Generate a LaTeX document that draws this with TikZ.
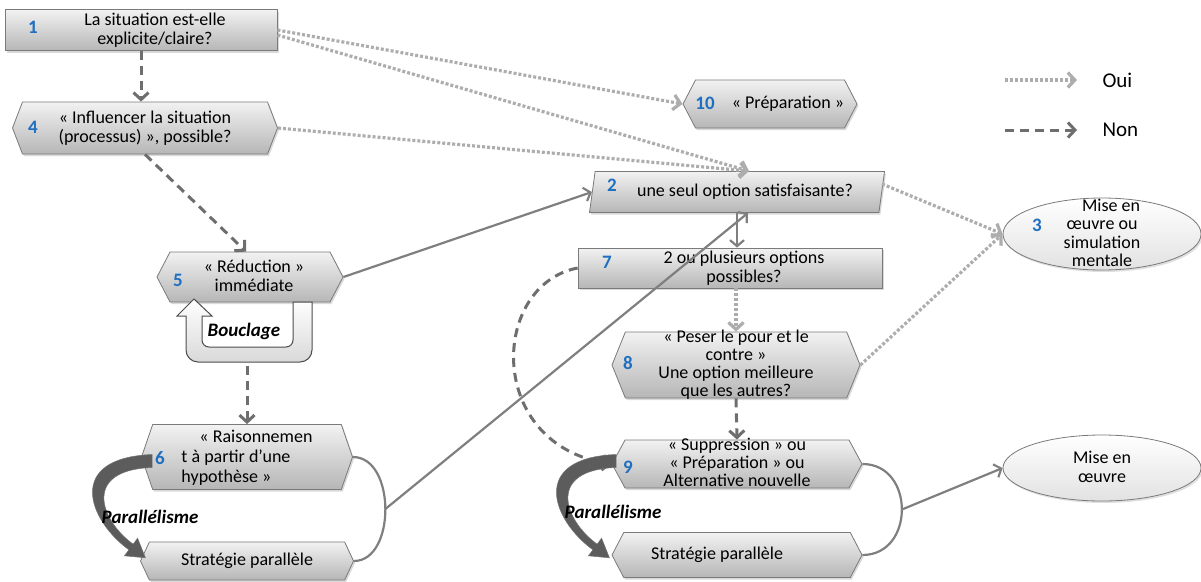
\documentclass[tikz,border=0pt]{standalone}
\usepackage{fontspec}
\setmainfont{Carlito}
\usetikzlibrary{shapes.geometric,shapes.symbols,shadows,arrows.meta,positioning}

\definecolor{boxtop}{HTML}{F2F2F2}
\definecolor{boxbot}{HTML}{B6B6B6}
\definecolor{boxline}{HTML}{7A7A7A}
\definecolor{ovalbot}{HTML}{E2E2E2}
\definecolor{numblue}{HTML}{1F6FC0}
\definecolor{ouigray}{HTML}{ADADAD}
\definecolor{nongray}{HTML}{6E6E6E}
\definecolor{flowgray}{HTML}{7F7F7F}
\definecolor{loopdark}{HTML}{5C5C5C}

\newcommand{\fs}{\fontsize{18}{18.5}\selectfont}
\newcommand{\lignes}[2][c]{\smash{\raisebox{-0.3em}{\begin{tabular}{@{}#1@{}}#2\end{tabular}}}}
\newcommand{\paraarrow}{%
  \fill[loopdark, draw=black!55, line width=0.5pt]
    (152,454.5) .. controls (65,458) and (88,520) .. (128.9,549.8)
    -- (124.4,555.8) -- (145.4,557.8) -- (137.6,538.2) -- (133.1,544.2)
    .. controls (100,520) and (82,470) .. (152,467.5) -- cycle;}

\tikzset{
  box/.style={draw=boxline, line width=0.8pt, top color=boxtop, bottom color=boxbot,
    drop shadow={opacity=0.3, shadow xshift=1.5pt, shadow yshift=-2pt},
    font=\fs, inner sep=0pt},
  slant/.style={box, trapezium, trapezium left angle=70, trapezium right angle=110,
    trapezium stretches body},
  hexa/.style={box, signal, signal to=west and east, signal pointer angle=#1},
  hexa/.default=130,
  oval/.style={ellipse, draw=boxline, line width=0.8pt, top color=white, bottom color=ovalbot,
    drop shadow={opacity=0.25, shadow xshift=1.5pt, shadow yshift=-2pt},
    font=\fs, inner sep=0pt},
  num/.style={text=numblue, font=\fontsize{19}{19}\selectfont\bfseries},
  tag/.style={font=\fontsize{19}{19}\selectfont\bfseries\itshape},
  link/.style={draw=flowgray, line width=2.2pt},
  flow/.style={link, -{Straight Barb[length=6pt,width=14pt]}},
  oui/.style={draw=ouigray, line width=3.2pt, dash pattern=on 3pt off 2pt,
    -{Straight Barb[length=7pt,width=15pt]}},
  non/.style={draw=nongray, line width=3pt, dash pattern=on 9pt off 6pt,
    -{Straight Barb[length=7pt,width=15pt]}},
}

\begin{document}
\begin{tikzpicture}[x=1pt,y=-1pt]
\useasboundingbox (0,0) rectangle (1201,581);

% colonne de gauche
\node[slant, minimum width=272pt, minimum height=41pt] (n1) at (141,30)
  {\hspace*{28pt}\lignes{La situation est-elle\\explicite/claire?}};
\node[hexa=138, minimum width=265pt, minimum height=52pt] (n4) at (145,128)
  {\lignes{« Influencer la situation\\(processus) », possible?}};
\node[hexa=125, minimum width=186pt, minimum height=50pt] (n5) at (250,277)
  {\hspace*{8pt}\lignes{« Réduction »\\immédiate}};
\node[hexa=142, minimum width=211pt, minimum height=65pt, font=\fontsize{18}{20}\selectfont] (n6) at (247,457)
  {\lignes[l]{\hspace*{18pt}« Raisonnemen\\t à partir d’une\\hypothèse »}};
\node[hexa, minimum width=213pt, minimum height=38pt] (s6) at (247,561)
  {Stratégie parallèle};

% colonne du milieu
\node[hexa=125, minimum width=174pt, minimum height=48pt] (n10) at (770,104)
  {\hspace*{36pt}« Préparation »};
\node[slant, minimum width=295pt, minimum height=41pt] (n2) at (737,192)
  {\hspace*{16pt}une seul option satisfaisante?};
\node[slant, minimum width=304pt, minimum height=40pt] (n7) at (730,268)
  {\hspace*{28pt}\lignes{2 ou plusieurs options\\possibles?}};
\node[hexa=136, minimum width=248pt, minimum height=66pt, font=\fontsize{18}{18}\selectfont] (n8) at (736,365)
  {\lignes{« Peser le pour et le\\contre »\\Une option meilleure\\que les autres?}};
\node[hexa=123, minimum width=250pt, minimum height=48pt, font=\fontsize{18}{17.5}\selectfont] (n9) at (737,464)
  {\lignes{« Suppression » ou\\« Préparation » ou\\Alternative nouvelle}};
\node[hexa=125, minimum width=250pt, minimum height=45pt] (s9) at (737,555)
  {Stratégie parallèle\hspace*{40pt}};

% droite
\node[oval, minimum width=198pt, minimum height=72pt] (n3) at (1102,234)
  {\lignes{\hspace*{18pt}Mise en\\œuvre ou\\simulation\\mentale}};
\node[oval, minimum width=198pt, minimum height=66pt] (m3) at (1102,468)
  {\lignes{Mise en\\œuvre}};

% numeros
\node[num] (k1) at (33,27) {1};
\node[num] (k4) at (33,127) {4};
\node[num] (k5) at (178,280) {5};
\node[num] (k6) at (160,458) {6};
\node[num] (k10) at (705,103) {10};
\node[num] (k2) at (612,185) {2};
\node[num] (k7) at (607,262) {7};
\node[num] (k8) at (628,363) {8};
\node[num] (k9) at (628,467) {9};
\node[num] (k3) at (1037,225) {3};

% fleches
\draw[non] (n1.south) -- (n1.south |- n4.north);
\draw[oui] (n1.east) -- (n10.west);
\draw[oui] ([yshift=-5pt]n1.east) -- ([xshift=12pt]n2.north);
\draw[oui] (n4.east) -- ([xshift=12pt]n2.north);
\draw[non] (n4.south) -- ([xshift=-4pt]n5.north);
\draw[flow] (n5.east) -- (n2.west);
\coordinate (loopout) at (247,366);
\draw[non] (loopout) -- (loopout |- n6.north);
\draw[link] (n6.east) .. controls (396,457) and (396,561) .. coordinate[pos=0.5] (join6) (s6.east);
\draw[flow] (join6) -- ([xshift=11pt]n2.south);
\draw[flow] (n2.south) -- (n2.south |- n7.north);
\draw[oui] (n8.north |- n7.south) -- (n8.north);
\draw[non] (n8.south) -- (n9.north);
\draw[non] (n7.west) .. controls (490,285) and (485,445) .. (n9.west);
\draw[oui] (n8.east) -- (n3.west);
\draw[oui] ([yshift=8pt]n2.east) -- (n3.west);
\draw[link] (n9.east) .. controls (915,464) and (915,555) .. coordinate[pos=0.5] (join9) (s9.east);
\draw[flow] (join9) -- (m3.west);

% bouclage
\draw[black!70, line width=1pt, top color=white, bottom color=gray!30, rounded corners=12pt]
  (312,302) -- (312,362) -- (186,362) [sharp corners]-- (186,316) -- (177,316) -- (194,299)
  -- (212,316) -- (202,316) [rounded corners=7pt]-- (202,347) -- (293,347) [sharp corners]-- (293,302) -- cycle;
\node[tag] (bouclage) at (244,331) {Bouclage};

% parallelisme
\paraarrow
\begin{scope}[xshift=464pt]
  \paraarrow
\end{scope}
\node[tag] (para6) at (150,517) {Parallélisme};
\node[tag] (para9) at (613,512) {Parallélisme};

% legende
\coordinate (ouiA) at (1005,80);
\coordinate (ouiB) at (1077,80);
\coordinate (nonA) at (1005,130);
\coordinate (nonB) at (1077,130);
\draw[oui] (ouiA) -- (ouiB);
\draw[non] (nonA) -- (nonB);
\node[anchor=west, font=\fontsize{21}{21}\selectfont] (oui) at (1099,80) {Oui};
\node[anchor=west, font=\fontsize{21}{21}\selectfont] (non) at (1099,130) {Non};
\end{tikzpicture}
\end{document}
